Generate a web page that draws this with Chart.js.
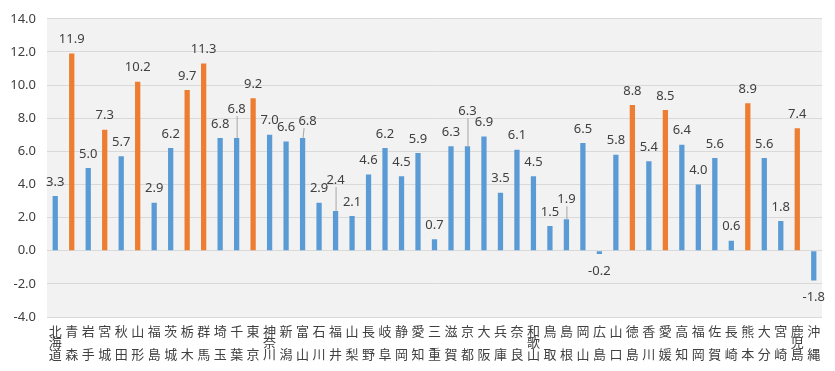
<!DOCTYPE html>
<html>
<head>
<meta charset="utf-8">
<script src="https://cdn.jsdelivr.net/npm/chart.js@4"></script>
<style>
  html, body { margin: 0; padding: 0; background: #fff; }
  #wrap { width: 835px; height: 371px; }
</style>
</head>
<body>
<div id="wrap"><canvas id="c" width="835" height="371"></canvas></div>
<script>
const prefectures = ['北海道','青森','岩手','宮城','秋田','山形','福島','茨城','栃木','群馬','埼玉','千葉','東京','神奈川','新潟','富山','石川','福井','山梨','長野','岐阜','静岡','愛知','三重','滋賀','京都','大阪','兵庫','奈良','和歌山','鳥取','島根','岡山','広島','山口','徳島','香川','愛媛','高知','福岡','佐賀','長崎','熊本','大分','宮崎','鹿児島','沖縄']
const values = [3.3, 11.9, 5.0, 7.3, 5.7, 10.2, 2.9, 6.2, 9.7, 11.3, 6.8, 6.8, 9.2, 7.0, 6.6, 6.8, 2.9, 2.4, 2.1, 4.6, 6.2, 4.5, 5.9, 0.7, 6.3, 6.3, 6.9, 3.5, 6.1, 4.5, 1.5, 1.9, 6.5, -0.2, 5.8, 8.8, 5.4, 8.5, 6.4, 4.0, 5.6, 0.6, 8.9, 5.6, 1.8, 7.4, -1.8]
const highlighted = ['青森','宮城','山形','栃木','群馬','東京','徳島','愛媛','熊本','鹿児島']
const yTicks = [-4, -2, 0, 2, 4, 6, 8, 10, 12, 14]

// labels moved off the bar in the original, drawn with a leader line
const labelNudge = { 11: [0, -15], 15: [5, -3], 17: [0, -17], 25: [0, -21], 31: [0, -6] }

const BLUE = '#5b9bd5', ORANGE = '#ed7d31'

// vertical label: one char per line, 2-char names spread to top and bottom
const vertLabels = prefectures.map(p => {
  const ch = [...p]
  return ch.length === 2 ? [ch[0], '', ch[1]] : ch
})

const plotBg = {
  id: 'plotBg',
  beforeDraw(chart) {
    const { ctx, chartArea: a } = chart
    ctx.save()
    ctx.fillStyle = '#f2f2f2'
    ctx.fillRect(a.left, a.top, a.right - a.left, a.bottom - a.top)
    ctx.restore()
  }
}

const valueLabels = {
  id: 'valueLabels',
  afterDatasetsDraw(chart) {
    const { ctx } = chart
    const meta = chart.getDatasetMeta(0)
    ctx.save()
    ctx.font = '13px "Noto Sans", sans-serif'
    ctx.fillStyle = '#404040'
    ctx.textAlign = 'center'
    ctx.textBaseline = 'middle'
    meta.data.forEach((bar, i) => {
      const v = values[i]
      const n = labelNudge[i] || [0, 0]
      const x = bar.x + n[0]
      const y = (v >= 0 ? bar.y - 14 : bar.y + 17) + n[1]
      if (labelNudge[i]) {
        ctx.strokeStyle = '#a6a6a6'
        ctx.lineWidth = 1
        ctx.beginPath()
        ctx.moveTo(bar.x + 0.5, bar.y)
        ctx.lineTo(x - (n[0] ? 4 : 0) + 0.5, y + 7)
        ctx.stroke()
      }
      ctx.fillText(v.toFixed(1), x, y)
    })
    ctx.restore()
  }
}

new Chart(document.getElementById('c'), {
  type: 'bar',
  data: {
    labels: vertLabels,
    datasets: [{
      data: values,
      backgroundColor: prefectures.map(p => highlighted.includes(p) ? ORANGE : BLUE),
      categoryPercentage: 1,
      barPercentage: 0.32
    }]
  },
  options: {
    responsive: false,
    animation: false,
    layout: { padding: { top: 15, right: 13, left: 0, bottom: 0 } },
    plugins: { legend: { display: false }, tooltip: { enabled: false } },
    scales: {
      x: {
        grid: { display: false, drawTicks: false },
        border: { display: false },
        ticks: {
          autoSkip: false, maxRotation: 0, minRotation: 0, padding: 8,
          color: '#404040',
          font: { family: '"Noto Sans CJK JP", sans-serif', size: 13, lineHeight: 0.9 }
        },
        afterFit(s) { s.height = 54 }
      },
      y: {
        min: -4, max: 14,
        afterBuildTicks(s) { s.ticks = yTicks.map(v => ({ value: v })) },
        grid: { color: '#d9d9d9', drawTicks: false },
        border: { display: false },
        ticks: {
          padding: 11, color: '#404040',
          font: { family: '"Noto Sans", sans-serif', size: 13 },
          callback: v => v.toFixed(1)
        },
        afterFit(s) { s.width = 47 }
      }
    }
  },
  plugins: [plotBg, valueLabels]
})
</script>
</body>
</html>
